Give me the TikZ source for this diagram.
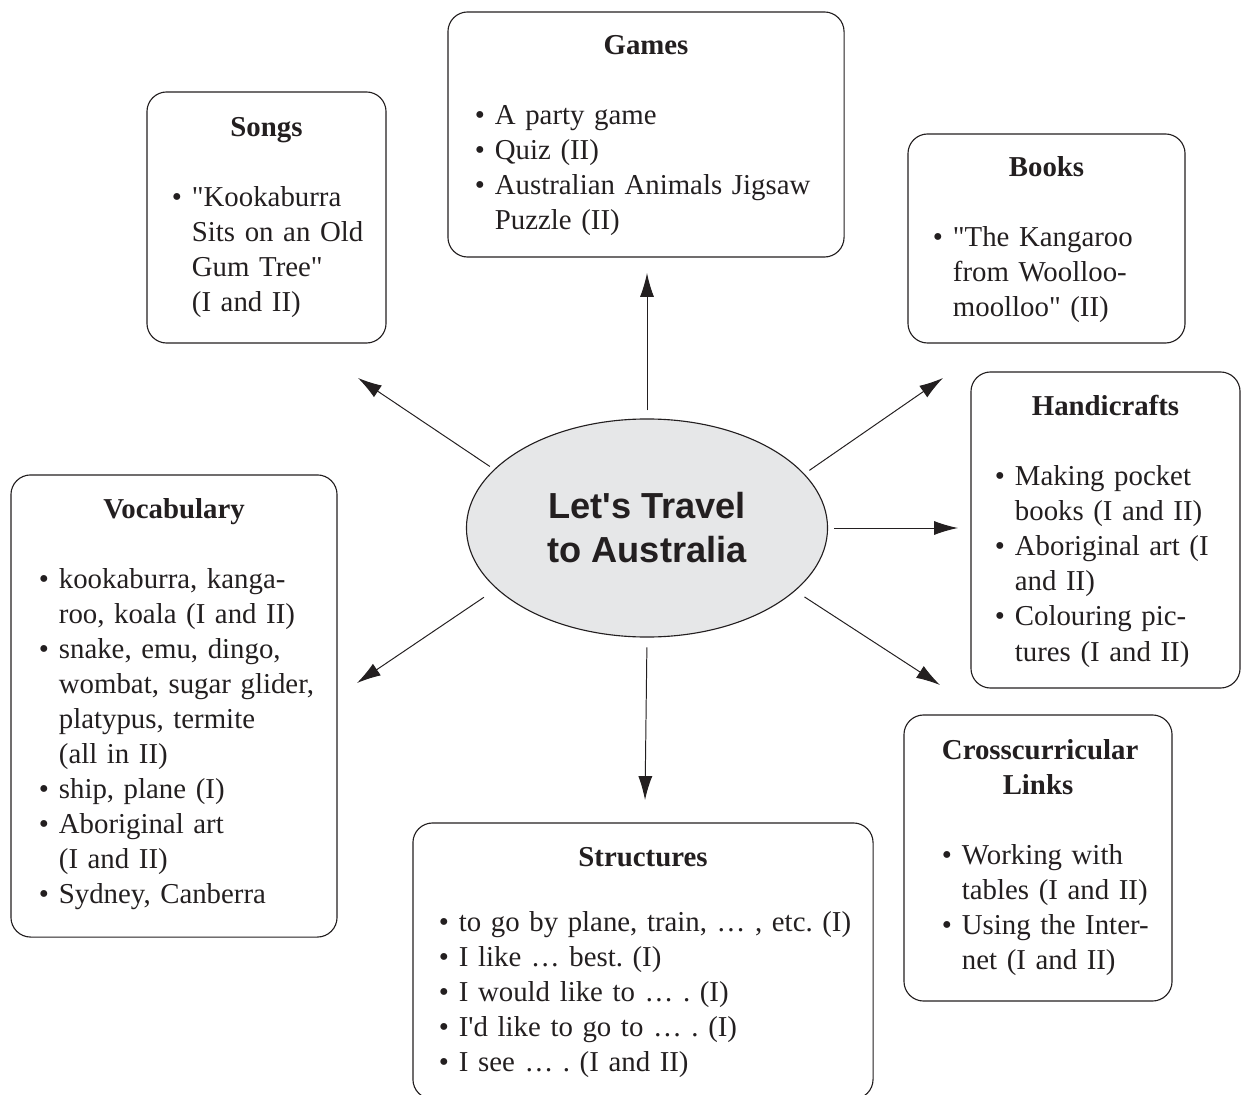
\documentclass[tikz,border=0pt]{standalone}
\usepackage{fontspec}
\setmainfont{Liberation Serif}[Ligatures=TeXOff]
\newfontfamily\hubfont{Liberation Sans}[Ligatures=TeXOff]
\usetikzlibrary{arrows.meta,shapes.geometric}
\frenchspacing

\definecolor{ink}{HTML}{231F20}
\definecolor{hubgray}{HTML}{E6E7E8}

% title line and bullet list inside a topic box
\newcommand{\boxtitle}[2][18.5pt]{{\centering\bfseries\hyphenpenalty=10000\rule{0pt}{#1}#2\par}\vspace{\baselineskip}}
\newcommand{\blist}[1]{\noindent\begin{tabular}[t]{@{}l@{\hspace{7pt}}l@{}}#1\end{tabular}}

\begin{document}
\begin{tikzpicture}[x=0.025cm, y=-0.025cm,
    topic/.style={draw=ink, line width=0.8pt, rounded corners=14pt, inner sep=0pt,
      align=left, text=ink, font=\fontsize{20.5}{24.9}\selectfont},
    hub/.style={ellipse, draw=ink, fill=hubgray, line width=0.8pt, inner sep=0pt,
      minimum width=9.025cm, minimum height=5.45cm, align=center, text=ink,
      font=\hubfont\bfseries\fontsize{25.75}{31.3}\selectfont},
    link/.style={draw=ink, line width=0.7pt, -{Latex[length=17pt, width=10pt]}}]
    \useasboundingbox (0,0) rectangle (1241,1095);

    \node[hub] (hub) at (647,528) {Let's Travel\\to Australia};

    \node[topic, minimum width=9.9cm, minimum height=6.125cm, text width=8.55cm] (games) at (646,134.5) {
      \boxtitle{Games}
      \blist{\textbullet & A party game\\
        \textbullet & Quiz (II)\\
        \textbullet & Australian Animals Jigsaw\\
        & Puzzle (II)}};
    \node[topic, minimum width=5.975cm, minimum height=6.275cm, text width=4.725cm] (songs) at (266.5,217.5) {
      \boxtitle[17pt]{Songs}
      \blist{\textbullet & "Kookaburra\\
        & Sits on an Old\\
        & Gum Tree"\\
        & (I and II)}};
    \node[topic, minimum width=6.925cm, minimum height=5.225cm, text width=5.675cm] (books) at (1046.5,238.5) {
      \boxtitle[19.5pt]{Books}
      \blist{\textbullet & "The Kangaroo\\
        & from Woolloo-\\
        & moolloo" (II)}};
    \node[topic, minimum width=6.725cm, minimum height=7.9cm, text width=5.525cm] (crafts) at (1105.5,530) {
      \boxtitle[19.5pt]{Handicrafts}
      \blist{\textbullet & Making pocket\\
        & books (I and II)\\
        \textbullet & Aboriginal art (I\\
        & and II)\\
        \textbullet & Colouring pic-\\
        & tures (I and II)}};
    \node[topic, minimum width=8.15cm, minimum height=11.55cm, text width=6.75cm] (vocab) at (174,706) {
      \boxtitle[14pt]{Vocabulary}
      \blist{\textbullet & kookaburra, kanga-\\
        & roo, koala (I and II)\\
        \textbullet & snake, emu, dingo,\\
        & wombat, sugar glider,\\
        & platypus, termite\\
        & (all in II)\\
        \textbullet & ship, plane (I)\\
        \textbullet & Aboriginal art\\
        & (I and II)\\
        \textbullet & Sydney, Canberra}};
    \node[topic, minimum width=6.7cm, minimum height=7.15cm, text width=4.8cm] (links) at (1038,858) {
      \boxtitle[17pt]{Crosscurricular\\Links}
      \blist{\textbullet & Working with\\
        & tables (I and II)\\
        \textbullet & Using the Inter-\\
        & net (I and II)}};
    \node[topic, minimum width=11.5cm, minimum height=6.9cm, text width=10.2cm] (struct) at (643,961) {
      \boxtitle{Structures}\vspace{-3.5pt}
      \blist{\textbullet & to go by plane, train, … , etc. (I)\\
        \textbullet & I like … best. (I)\\
        \textbullet & I would like to … . (I)\\
        \textbullet & I'd like to go to … . (I)\\
        \textbullet & I see … . (I and II)}};

    % arrow tips stop short of the boxes
    \coordinate (gamesTip) at (647,273);
    \coordinate (songsTip) at (358,378);
    \coordinate (booksTip) at (943,378);
    \coordinate (craftsTip) at (958,528);
    \coordinate (linksTip) at (940,685);
    \coordinate (structTip) at (645,800);
    \coordinate (vocabTip) at (357,683);

    \draw[link, shorten <=5.7pt] (hub.90) -- (gamesTip);
    \draw[link, shorten <=3.6pt] (hub.159.2) -- (songsTip);
    \draw[link, shorten <=4.3pt] (hub.19.3) -- (booksTip);
    \draw[link, shorten <=4.3pt] (hub.0) -- (craftsTip);
    \draw[link, shorten <=7.8pt] (hub.337.4) -- (linksTip);
    \draw[link, shorten <=7pt] (hub.270) -- (structTip);
    \draw[link, shorten <=10.7pt] (hub.202.6) -- (vocabTip);
\end{tikzpicture}
\end{document}
